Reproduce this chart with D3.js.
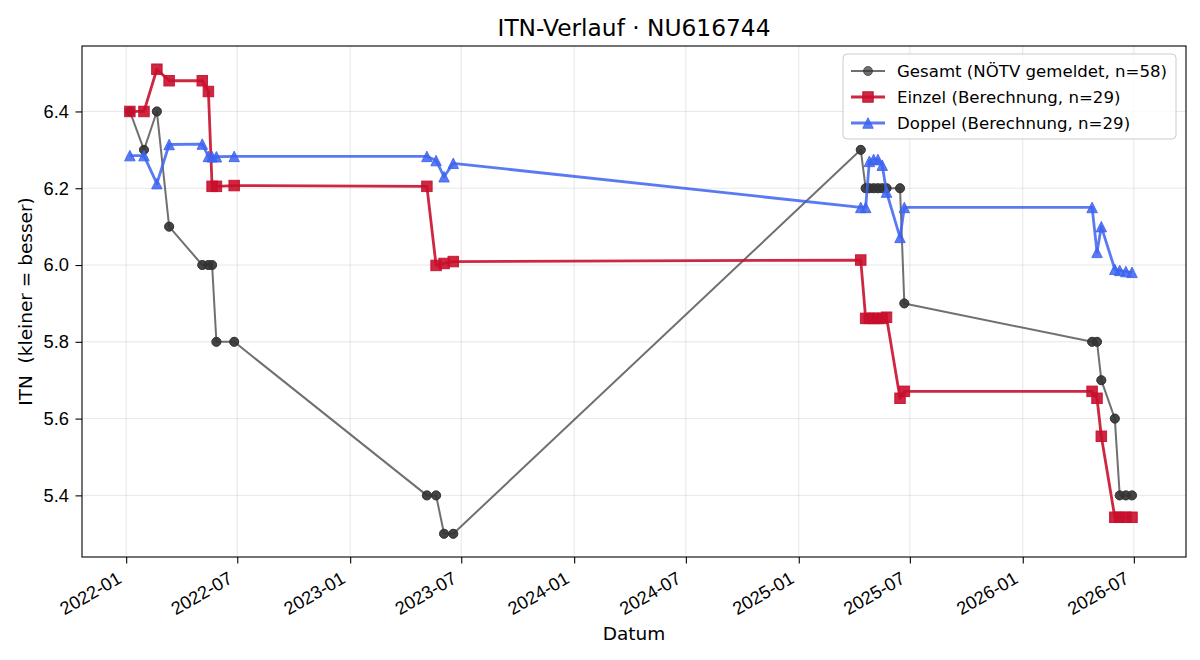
<!DOCTYPE html>
<html>
<head>
<meta charset="utf-8">
<script src="https://cdn.jsdelivr.net/npm/d3@7"></script>
<style>
  body { margin: 0; background: #fff; }
  svg { font-family: "DejaVu Sans", sans-serif; }
</style>
</head>
<body>
<div id="chart"></div>
<script>
// measurement dates (shared by all three series)
const dates = [
  '2022-01-07','2022-01-30','2022-02-20','2022-03-12','2022-05-05','2022-05-15',
  '2022-05-21','2022-05-28','2022-06-26',
  '2023-05-06','2023-05-21','2023-06-03','2023-06-18',
  '2025-04-12','2025-04-20','2025-04-26','2025-05-03','2025-05-10','2025-05-17',
  '2025-05-24','2025-06-15','2025-06-22',
  '2026-04-24','2026-05-02','2026-05-09','2026-05-31','2026-06-08','2026-06-18','2026-06-28'
]

// reported ITN (two reports per date -> n=58)
const gesamt = [6.4, 6.3, 6.4, 6.1, 6.0, 6.0, 6.0, 5.8, 5.8,
                5.4, 5.4, 5.3, 5.3,
                6.3, 6.2, 6.2, 6.2, 6.2, 6.2, 6.2, 6.2, 5.9,
                5.8, 5.8, 5.7, 5.6, 5.4, 5.4, 5.4]

const einzel = [6.40, 6.40, 6.51, 6.48, 6.48, 6.452, 6.205, 6.205, 6.207,
                6.205, 5.999, 6.004, 6.009,
                6.013, 5.861, 5.861, 5.861, 5.861, 5.861, 5.864, 5.653, 5.671,
                5.671, 5.653, 5.554, 5.343, 5.343, 5.343, 5.343]

const doppel = [6.285, 6.285, 6.212, 6.314, 6.315, 6.283, 6.282, 6.282, 6.283,
                6.283, 6.272, 6.23, 6.265,
                6.15, 6.15, 6.27, 6.275, 6.275, 6.26, 6.19, 6.072, 6.15,
                6.15, 6.033, 6.10, 5.989, 5.986, 5.983, 5.981]

const yTicks = [5.4, 5.6, 5.8, 6.0, 6.2, 6.4]
const xRange = ['2021-10-21', '2026-09-24'] // visible date span of the axes

const W = 1200, H = 660
const margin = {left: 82, right: 14, top: 46, bottom: 103}
const tickFs = 18.3, labelFs = 18.5, legendFs = 16.6, titleFs = 23.3

const parse = d3.timeParse('%Y-%m-%d')
const dd = dates.map(parse)

const gesamtData = []
dd.forEach((d, i) => { gesamtData.push({d: d, v: gesamt[i]}); gesamtData.push({d: d, v: gesamt[i]}) })
const einzelData = dd.map((d, i) => ({d: d, v: einzel[i]}))
const doppelData = dd.map((d, i) => ({d: d, v: doppel[i]}))

// matplotlib-like 5% margins on y
const allV = gesamt.concat(einzel, doppel)
const yExt = d3.extent(allV), yPad = (yExt[1] - yExt[0]) * 0.05

const x = d3.scaleTime()
  .domain(xRange.map(parse))
  .range([margin.left, W - margin.right])
const y = d3.scaleLinear()
  .domain([yExt[0] - yPad, yExt[1] + yPad])
  .range([H - margin.bottom, margin.top])

const svg = d3.select('#chart').append('svg')
  .attr('width', W).attr('height', H)

const xTicks = d3.timeMonth.every(6).range(new Date(2022, 0, 1), new Date(2026, 7, 1))

// grid
const grid = svg.append('g').attr('stroke', '#b0b0b0').attr('stroke-opacity', 0.3).attr('stroke-width', 1)
grid.selectAll('.gx').data(xTicks).enter().append('line')
  .attr('x1', d => x(d)).attr('x2', d => x(d))
  .attr('y1', margin.top).attr('y2', H - margin.bottom)
grid.selectAll('.gy').data(yTicks).enter().append('line')
  .attr('x1', margin.left).attr('x2', W - margin.right)
  .attr('y1', d => y(d)).attr('y2', d => y(d))

// axes
const xAxis = svg.append('g')
  .attr('transform', 'translate(0,' + (H - margin.bottom) + ')')
  .call(d3.axisBottom(x).tickValues(xTicks).tickFormat(d3.timeFormat('%Y-%m')).tickSize(6.5).tickPadding(6))
xAxis.selectAll('text')
  .attr('font-size', tickFs).attr('fill', '#000')
  .attr('text-anchor', 'end')
  .attr('dy', null).attr('y', 0)
  .attr('transform', 'translate(-4,25) rotate(-30)')

const yAxis = svg.append('g')
  .attr('transform', 'translate(' + margin.left + ',0)')
  .call(d3.axisLeft(y).tickValues(yTicks).tickFormat(d3.format('.1f')).tickSize(6.5).tickPadding(6.5))
yAxis.selectAll('text').attr('font-size', tickFs).attr('fill', '#000')

svg.selectAll('.domain').remove()
svg.selectAll('.tick line').attr('stroke', '#000').attr('stroke-width', 1.1)

// frame
svg.append('rect')
  .attr('x', margin.left).attr('y', margin.top)
  .attr('width', W - margin.left - margin.right)
  .attr('height', H - margin.top - margin.bottom)
  .attr('fill', 'none').attr('stroke', '#000').attr('stroke-width', 1.1)

const line = d3.line().x(d => x(d.d)).y(d => y(d.v))

function drawMarker(g, shape, s) {
  if (shape == 'circle') return g.append('circle').attr('r', s / 2)
  if (shape == 'square') return g.append('rect').attr('x', -s / 2).attr('y', -s / 2).attr('width', s).attr('height', s)
  return g.append('path').attr('d', 'M0,' + (-s / 2) + 'L' + (s / 2) + ',' + (s / 2) + 'L' + (-s / 2) + ',' + (s / 2) + 'Z')
}

const series = [
  {data: gesamtData, color: '#333', alpha: 0.7, lw: 2, shape: 'circle', size: 9,
   label: 'Gesamt (NÖTV gemeldet, n=58)'},
  {data: einzelData, color: '#c8102e', alpha: 0.9, lw: 2.8, shape: 'square', size: 10.5,
   label: 'Einzel (Berechnung, n=29)'},
  {data: doppelData, color: '#3d63f0', alpha: 0.85, lw: 2.8, shape: 'triangle', size: 10.5,
   label: 'Doppel (Berechnung, n=29)'}
]

series.forEach(s => {
  const g = svg.append('g')
  g.append('path').datum(s.data)
    .attr('d', line).attr('fill', 'none')
    .attr('stroke', s.color).attr('stroke-opacity', s.alpha)
    .attr('stroke-width', s.lw).attr('stroke-linejoin', 'round')
  s.data.forEach(p => {
    const mg = g.append('g').attr('transform', 'translate(' + x(p.d) + ',' + y(p.v) + ')')
    drawMarker(mg, s.shape, s.size).attr('fill', s.color).attr('fill-opacity', s.alpha)
      .attr('stroke', s.color).attr('stroke-opacity', s.alpha).attr('stroke-width', 1)
  })
})

// title and labels
svg.append('text').attr('x', (margin.left + W - margin.right) / 2).attr('y', 36)
  .attr('text-anchor', 'middle').attr('font-size', titleFs).text('ITN-Verlauf · NU616744')
svg.append('text').attr('x', (margin.left + W - margin.right) / 2).attr('y', 640)
  .attr('text-anchor', 'middle').attr('font-size', labelFs).text('Datum')
svg.append('text')
  .attr('transform', 'translate(32,' + ((margin.top + H - margin.bottom) / 2) + ') rotate(-90)')
  .attr('text-anchor', 'middle').attr('font-size', labelFs)
  .attr('xml:space', 'preserve').style('white-space', 'pre')
  .text('ITN  (kleiner = besser)')

// legend
const lg = svg.append('g').attr('transform', 'translate(843,54)')
lg.append('rect').attr('width', 333).attr('height', 85).attr('rx', 4)
  .attr('fill', '#fff').attr('fill-opacity', 0.8).attr('stroke', '#ccc').attr('stroke-width', 1)
series.forEach((s, i) => {
  const row = lg.append('g').attr('transform', 'translate(0,' + (17 + i * 26) + ')')
  row.append('line').attr('x1', 8).attr('x2', 42).attr('y1', 0).attr('y2', 0)
    .attr('stroke', s.color).attr('stroke-opacity', s.alpha).attr('stroke-width', s.lw)
  const mg = row.append('g').attr('transform', 'translate(25,0)')
  drawMarker(mg, s.shape, s.size).attr('fill', s.color).attr('fill-opacity', s.alpha)
    .attr('stroke', s.color).attr('stroke-opacity', s.alpha)
  row.append('text').attr('x', 54).attr('y', 6).attr('font-size', legendFs).text(s.label)
})
</script>
</body>
</html>
